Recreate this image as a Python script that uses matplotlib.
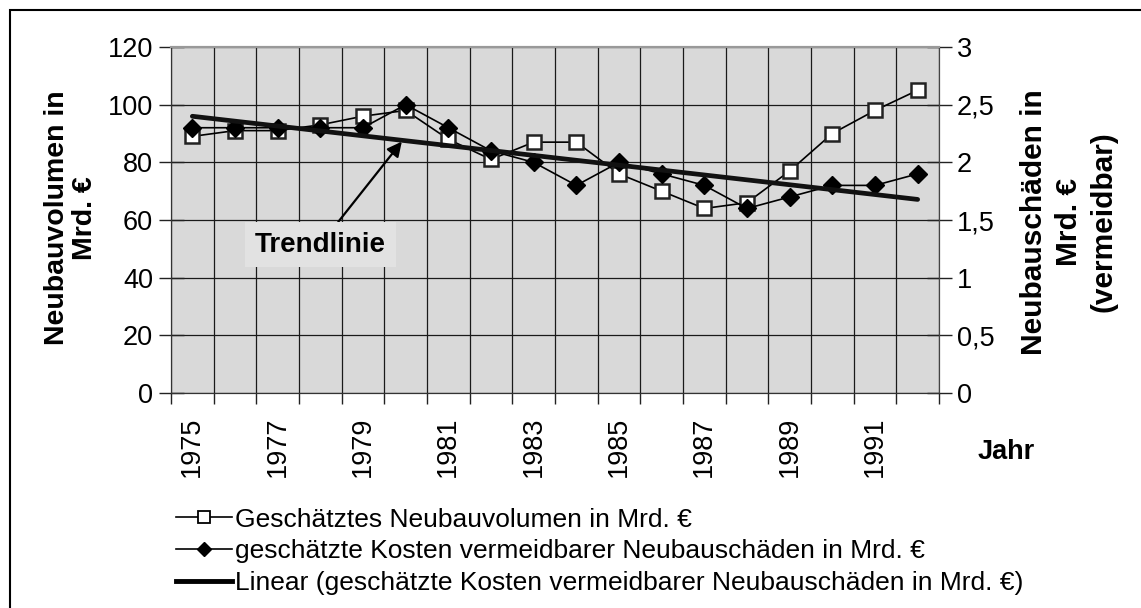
import numpy as np
import matplotlib
matplotlib.use("Agg")
import matplotlib.pyplot as plt
from matplotlib.lines import Line2D
from matplotlib.patches import Rectangle
from matplotlib.ticker import FuncFormatter

plt.rcParams['font.family'] = ['Liberation Sans', 'DejaVu Sans']

# Daten
jahre = list(range(1975, 1993))
volumen = [89, 91, 91, 93, 96, 98, 88, 81, 87, 87, 76, 70, 64, 66, 77, 90, 98, 105]
kosten = [2.3, 2.3, 2.3, 2.3, 2.3, 2.5, 2.3, 2.1, 2.0, 1.8, 2.0, 1.9, 1.8, 1.6, 1.7, 1.8, 1.8, 1.9]
label_volumen = 'Geschätztes Neubauvolumen in Mrd. €'
label_kosten = 'geschätzte Kosten vermeidbarer Neubauschäden in Mrd. €'
label_trend = 'Linear (geschätzte Kosten vermeidbarer Neubauschäden in Mrd. €)'

W, H = 1141, 608
fig = plt.figure(figsize=(W / 100, H / 100), dpi=100)
ax1 = fig.add_axes([171 / W, 1 - 393 / H, (939 - 171) / W, (393 - 47) / H])
ax1.set_facecolor('#d9d9d9')
ax2 = ax1.twinx()

x = np.arange(len(jahre))

# Trendlinie (lineare Regression der Kosten)
m, b = np.polyfit(x, kosten, 1)
trend = m * x + b

ax1.plot(x, volumen, color='black', lw=1.2, marker='s', ms=10.5,
         mfc='white', mec='#222222', mew=1.8, zorder=3)
ax2.plot(x, kosten, color='black', lw=1.2, marker='D', ms=9.5,
         mfc='black', mec='black', zorder=3)
ax2.plot(x, trend, color='#111111', lw=3.4, solid_capstyle='round', zorder=4)

ax1.set_xlim(-0.5, len(jahre) - 0.5)
ax1.set_ylim(0, 120)
ax2.set_ylim(0, 3)
ax1.set_yticks(np.arange(0, 121, 20))
ax2.set_yticks(np.arange(0, 3.01, 0.5))
ax2.yaxis.set_major_formatter(FuncFormatter(lambda v, p: ('%g' % v).replace('.', ',')))

# Kategorie-Grenzen als Hauptticks, Beschriftung jedes zweite Jahr
ax1.set_xticks(np.arange(-0.5, len(jahre), 1.0))
ax1.set_xticklabels([])
ax1.set_xticks(x[0:17:2], minor=True)
ax1.set_xticklabels([str(j) for j in jahre[0:17:2]], minor=True, rotation=90, fontsize=19.5)
ax1.tick_params(axis='x', which='minor', length=0, pad=17)
ax1.tick_params(axis='x', which='major', direction='out', length=8, width=1, color='#222222')
ax1.tick_params(axis='y', direction='inout', length=18, width=1, labelsize=19.5, pad=4, color='#222222')
ax2.tick_params(axis='y', direction='inout', length=18, width=1, labelsize=19.5, pad=4, color='#222222')

ax1.grid(True, which='major', color='#1a1a1a', lw=0.9)
ax1.set_axisbelow(True)
for ax in (ax1, ax2):
    ax.spines['top'].set_color('#999999')
    ax.spines['top'].set_linewidth(1.5)
    ax.spines['left'].set_color('#333333')
    ax.spines['right'].set_color('#444444')
    ax.spines['bottom'].set_color('#333333')

# Achsentitel
fig.text(71 / W, 1 - 218 / H, 'Neubauvolumen in\nMrd. €', rotation=90, ha='center', va='center',
         fontsize=20.5, fontweight='bold', linespacing=1.12)
fig.text(1069 / W, 1 - 222 / H, 'Neubauschäden in\nMrd. €\n(vermeidbar)', rotation=90,
         ha='center', va='center', fontsize=21.5, fontweight='bold', linespacing=1.3)
fig.text(1006 / W, 1 - 452 / H, 'Jahr', ha='center', va='center', fontsize=19.5, fontweight='bold')

# Beschriftung Trendlinie mit Pfeil
ax1.annotate('Trendlinie', xy=(4.91, 87.2), xytext=(3.0, 51.5),
             ha='center', va='center', fontsize=20, fontweight='bold',
             bbox=dict(boxstyle='square,pad=0.35', fc='#e2e2e2', ec='none'),
             arrowprops=dict(arrowstyle='-|>', color='black', lw=1.6,
                             mutation_scale=22, shrinkA=0, shrinkB=0),
             zorder=5)

# Legende
handles = [
    Line2D([], [], color='black', lw=1.2, marker='s', ms=9, mfc='white', mec='black', mew=1.3),
    Line2D([], [], color='black', lw=1.2, marker='D', ms=7.5, mfc='black', mec='black'),
    Line2D([], [], color='black', lw=3.5),
]
fig.legend(handles, [label_volumen, label_kosten, label_trend], loc='upper left',
           bbox_to_anchor=(165 / W, 1 - 497 / H), frameon=False, handlelength=2.15,
           handletextpad=0.12, labelspacing=0.3, borderaxespad=0,
           prop={'family': ['Liberation Sans Narrow', 'Liberation Sans'], 'size': 19})

# Rahmen um die Grafik
fig.patches.append(Rectangle((10 / W, -0.05), 1.1, 1 - 10 / H + 0.05, transform=fig.transFigure,
                             fill=False, ec='black', lw=1.5))

fig.savefig('out.png', dpi=100)
